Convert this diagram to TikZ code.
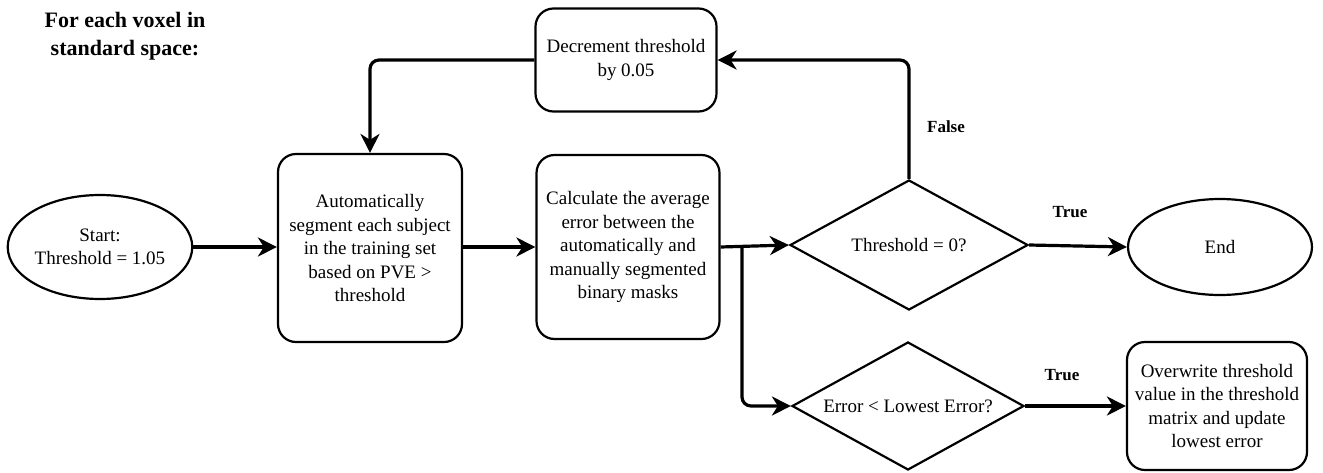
\documentclass[tikz,border=0pt]{standalone}
\usepackage{fontspec}
\setmainfont{LiberationSerif-Regular.ttf}[BoldFont=LiberationSerif-Bold.ttf]
\usetikzlibrary{shapes.geometric,arrows.meta}
\begin{document}
\begin{tikzpicture}[x=1pt,y=-1pt,
  txt/.style={align=center, font=\fontsize{19}{23.5}\selectfont, inner sep=0pt},
  box/.style={txt, draw, line width=2.2pt, rounded corners=18pt},
  oval/.style={txt, draw, line width=2.2pt, ellipse},
  dia/.style={txt, draw, line width=2.2pt, diamond, aspect=1.8},
  conn/.style={line width=3.2pt, -{Stealth[length=19pt,width=19pt,inset=6pt]}},
  lab/.style={font=\bfseries\fontsize{17}{20}\selectfont, inner sep=0pt}
]
\useasboundingbox (0,0) rectangle (1323,472);

\node[font=\bfseries\fontsize{22}{28}\selectfont, align=center, inner sep=0pt] (title) at (125,36) {For each voxel in\\standard space:};

\node[oval, minimum width=182pt, minimum height=104pt] (start) at (100,247) {Start:\\Threshold = 1.05};
\node[box, minimum width=184pt, minimum height=188pt] (seg) at (370,248) {Automatically\\segment each subject\\in the training set\\based on PVE >\\threshold};
\node[box, minimum width=183pt, minimum height=184pt] (calc) at (628,247) {Calculate the average\\error between the\\automatically and\\manually segmented\\binary masks};
\node[box, minimum width=181pt, minimum height=103pt] (dec) at (626,60) {Decrement threshold\\by 0.05};
\node[dia, minimum width=238pt, minimum height=130pt] (d1) at (909,245) {Threshold = 0?};
\node[dia, minimum width=232pt, minimum height=128pt] (d2) at (908,406) {Error < Lowest Error?};
\node[oval, minimum width=184pt, minimum height=96pt] (endn) at (1220,247) {End};
\node[box, minimum width=180pt, minimum height=128pt] (over) at (1217,406) {Overwrite threshold\\value in the threshold\\matrix and update\\lowest error};

\coordinate (br) at (742,247);

\draw[conn] (start.east) -- (start.east -| seg.west);
\draw[conn] (seg.east |- calc.west) -- (calc.west);
\draw[conn] (calc.east) -- (d1.west);
\draw[conn, rounded corners=9pt] (br) |- (d2.west);
\draw[conn, rounded corners=9pt] (d1.north) |- (dec.east);
\draw[conn, rounded corners=9pt] (dec.west) -| (seg.north);
\draw[conn] (d1.east) -- (endn.west);
\draw[conn] (d2.east) -- (over.west);

\node[lab] (f1) at (946,127) {False};
\node[lab] (t1) at (1070,212) {True};
\node[lab] (t2) at (1062,375) {True};
\end{tikzpicture}
\end{document}
